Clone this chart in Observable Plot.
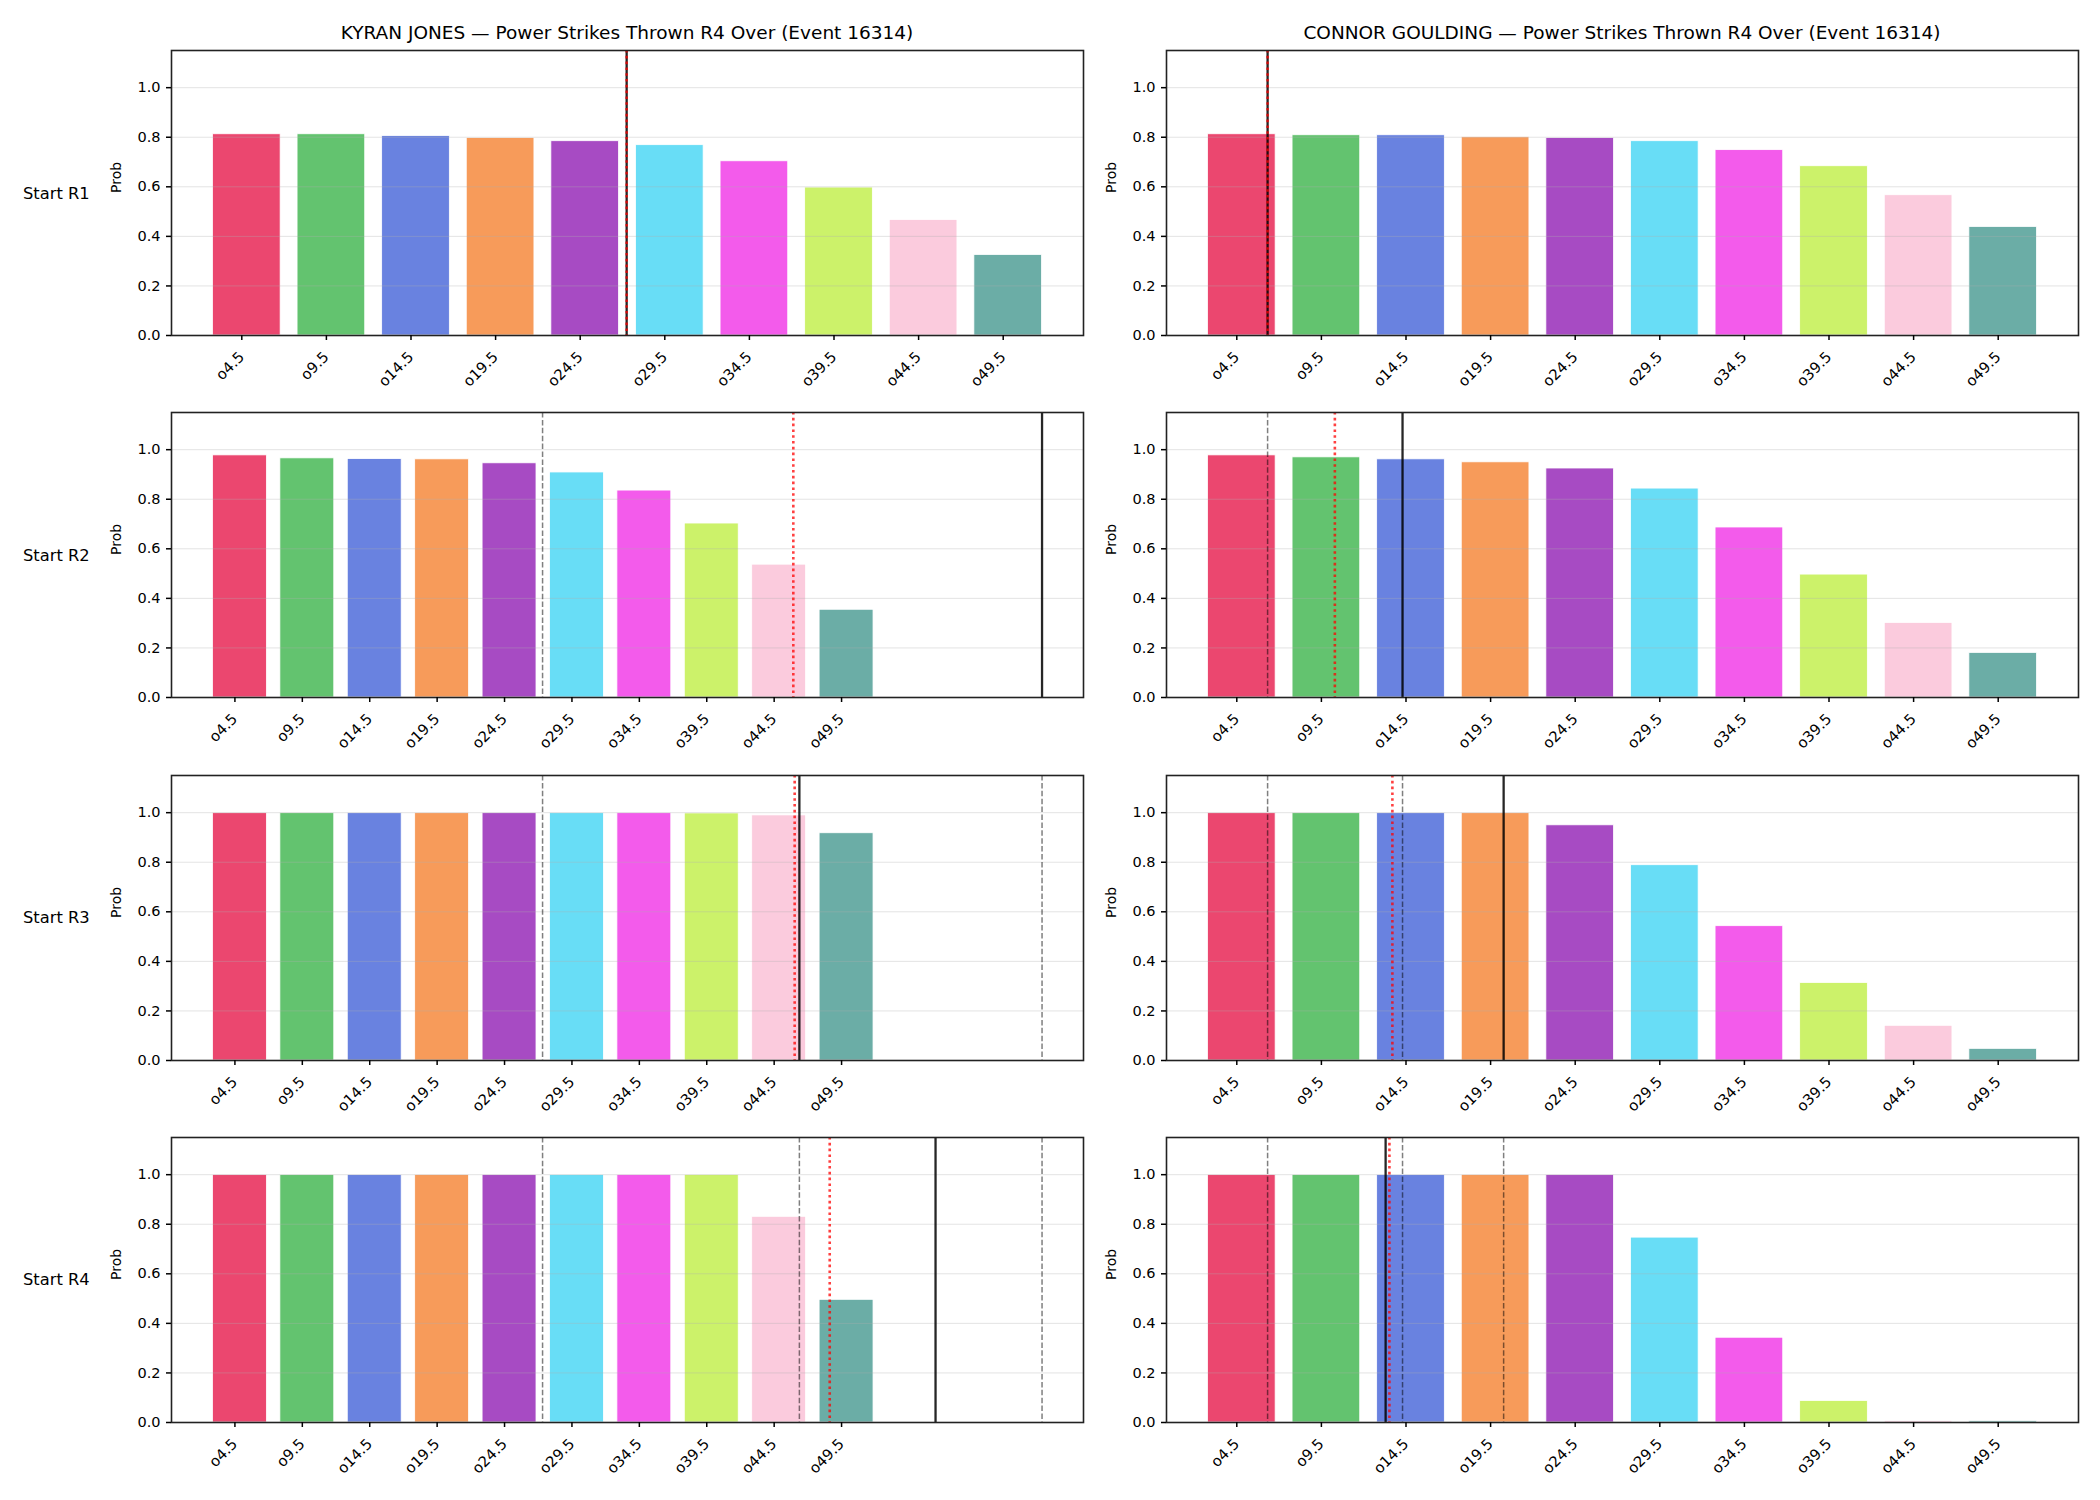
<!DOCTYPE html>
<html><head><meta charset="utf-8">
<script src="https://cdn.jsdelivr.net/npm/d3@7"></script>
<script src="https://cdn.jsdelivr.net/npm/@observablehq/plot@0.6"></script>
<style>
body{margin:0;background:#fff;font-family:"DejaVu Sans",sans-serif;}
#fig{position:relative;width:2100px;height:1500px;background:#fff;overflow:hidden}
.title{position:absolute;font-size:18.5px;transform:translate(-50%,-50%);white-space:nowrap;color:#000}
.row{position:absolute;font-size:16.3px;transform:translateY(-50%);white-space:nowrap;color:#000}
.panel{position:absolute}
.panel svg{max-width:none}
</style></head><body><div id="fig"></div>
<script>
const categories = ["o4.5","o9.5","o14.5","o19.5","o24.5","o29.5","o34.5","o39.5","o44.5","o49.5"];
const palette = ["#e6194b","#3cb44b","#4363d8","#f58231","#911eb4","#42d4f4","#f032e6","#bfef45","#fabed4","#469990"];
const yTicks = [0, 0.2, 0.4, 0.6, 0.8, 1.0];
const rounds = ["Start R1","Start R2","Start R3","Start R4"];
const titles = ["KYRAN JONES — Power Strikes Thrown R4 Over (Event 16314)",
                "CONNOR GOULDING — Power Strikes Thrown R4 Over (Event 16314)"];

const kyranR1 = [0.812, 0.812, 0.805, 0.797, 0.784, 0.768, 0.703, 0.597, 0.466, 0.325];
const kyranR2 = [0.977, 0.965, 0.962, 0.961, 0.945, 0.908, 0.835, 0.702, 0.536, 0.354];
const kyranR3 = [0.998, 0.998, 0.998, 0.998, 0.998, 0.998, 0.998, 0.997, 0.989, 0.917];
const kyranR4 = [0.999, 0.999, 0.999, 0.999, 0.999, 0.999, 0.999, 0.999, 0.830, 0.495];
const connorR1 = [0.812, 0.808, 0.808, 0.800, 0.797, 0.784, 0.748, 0.683, 0.566, 0.438];
const connorR2 = [0.977, 0.969, 0.961, 0.949, 0.924, 0.843, 0.686, 0.496, 0.301, 0.180];
const connorR3 = [0.998, 0.998, 0.998, 0.998, 0.949, 0.788, 0.542, 0.313, 0.140, 0.047];
const connorR4 = [0.999, 0.999, 0.999, 0.999, 0.999, 0.746, 0.342, 0.087, 0.006, 0.006];

// vertical reference lines, in category-index units
const kyranSolid  = [4.49, 11.90, 8.30, 10.32];
const kyranDotted = [4.49, 8.21, 8.23, 8.75];
const kyranDashed = [[], [4.49], [4.49, 11.90], [4.49, 8.30, 11.90]];
const connorSolid  = [0.305, 1.90, 3.095, 1.70];
const connorDotted = [0.305, 1.10, 1.78, 1.745];
const connorDashed = [[], [0.305], [0.305, 1.90], [0.305, 1.90, 3.095]];

const kyranVals = [kyranR1, kyranR2, kyranR3, kyranR4];
const connorVals = [connorR1, connorR2, connorR3, connorR4];

const fig = document.getElementById("fig");
const FRAME_TOP = 50, ROW_STEP = 362.33, FRAME_H = 285, MT = 8, MB = 62;

function panel(values, solid, dotted, dashed, width, mLeft, mRight) {
  const data = values.map((v, i) => ({i, v, c: palette[i]}));
  const all = [-0.4, 9.4, solid, dotted, ...dashed];
  const lo = d3.min(all), hi = d3.max(all), pad = (hi - lo) * 0.05;
  return Plot.plot({
    width, height: MT + FRAME_H + MB,
    marginLeft: mLeft, marginRight: mRight, marginTop: MT, marginBottom: MB,
    style: {background: "transparent", overflow: "visible", fontFamily: "DejaVu Sans", color: "black"},
    x: {type: "linear", domain: [lo - pad, hi + pad]},
    y: {domain: [0, 1.15]},
    color: {type: "identity"},
    marks: [
      Plot.rect(data, {x1: d => d.i - 0.4, x2: d => d.i + 0.4, y1: 0, y2: "v", fill: "c", fillOpacity: 0.8, stroke: "white", strokeWidth: 0.8}),
      Plot.ruleY(yTicks.slice(1), {stroke: "#b0b0b0", strokeOpacity: 0.35, strokeWidth: 1}),
      Plot.ruleX(dashed, {stroke: "black", strokeOpacity: 0.5, strokeWidth: 1.5, strokeDasharray: "5.5,2.4"}),
      Plot.ruleX([solid], {stroke: "black", strokeOpacity: 0.85, strokeWidth: 2.3}),
      Plot.ruleX([dotted], {stroke: "red", strokeOpacity: 0.75, strokeWidth: 2.6, strokeDasharray: "2.6,3.2"}),
      Plot.frame({stroke: "#222", strokeWidth: 1.6}),
      Plot.axisY({ticks: yTicks, tickFormat: d => d.toFixed(1), tickSize: 5, tickPadding: 6, fontSize: 14.5, label: null, strokeWidth: 1.5}),
      Plot.axisX({ticks: d3.range(categories.length), tickFormat: i => categories[i], tickRotate: -45, tickSize: 5, tickPadding: 14, dx: -5, fontSize: 14.8, label: null, textAnchor: "end", strokeWidth: 1.5}),
      Plot.text(["Prob"], {text: d => d, frameAnchor: "left", dx: -55, rotate: -90, fontSize: 14})
    ]
  });
}

function place(node, left, top) {
  const div = document.createElement("div");
  div.className = "panel";
  div.style.left = left + "px";
  div.style.top = top + "px";
  div.appendChild(node);
  fig.appendChild(div);
}

for (let r = 0; r < 4; r++) {
  const T = FRAME_TOP + ROW_STEP * r;
  place(panel(kyranVals[r], kyranSolid[r], kyranDotted[r], kyranDashed[r], 1095, 171, 12), 0, T - MT);
  place(panel(connorVals[r], connorSolid[r], connorDotted[r], connorDashed[r], 1005, 71, 22), 1095, T - MT);
  const lab = document.createElement("div");
  lab.className = "row";
  lab.textContent = rounds[r];
  lab.style.left = "23px";
  lab.style.top = (T + FRAME_H / 2) + "px";
  fig.appendChild(lab);
}
[[titles[0], 627], [titles[1], 1622]].forEach(([t, cx]) => {
  const d = document.createElement("div");
  d.className = "title";
  d.textContent = t;
  d.style.left = cx + "px";
  d.style.top = "31.7px";
  fig.appendChild(d);
});
</script></body></html>
